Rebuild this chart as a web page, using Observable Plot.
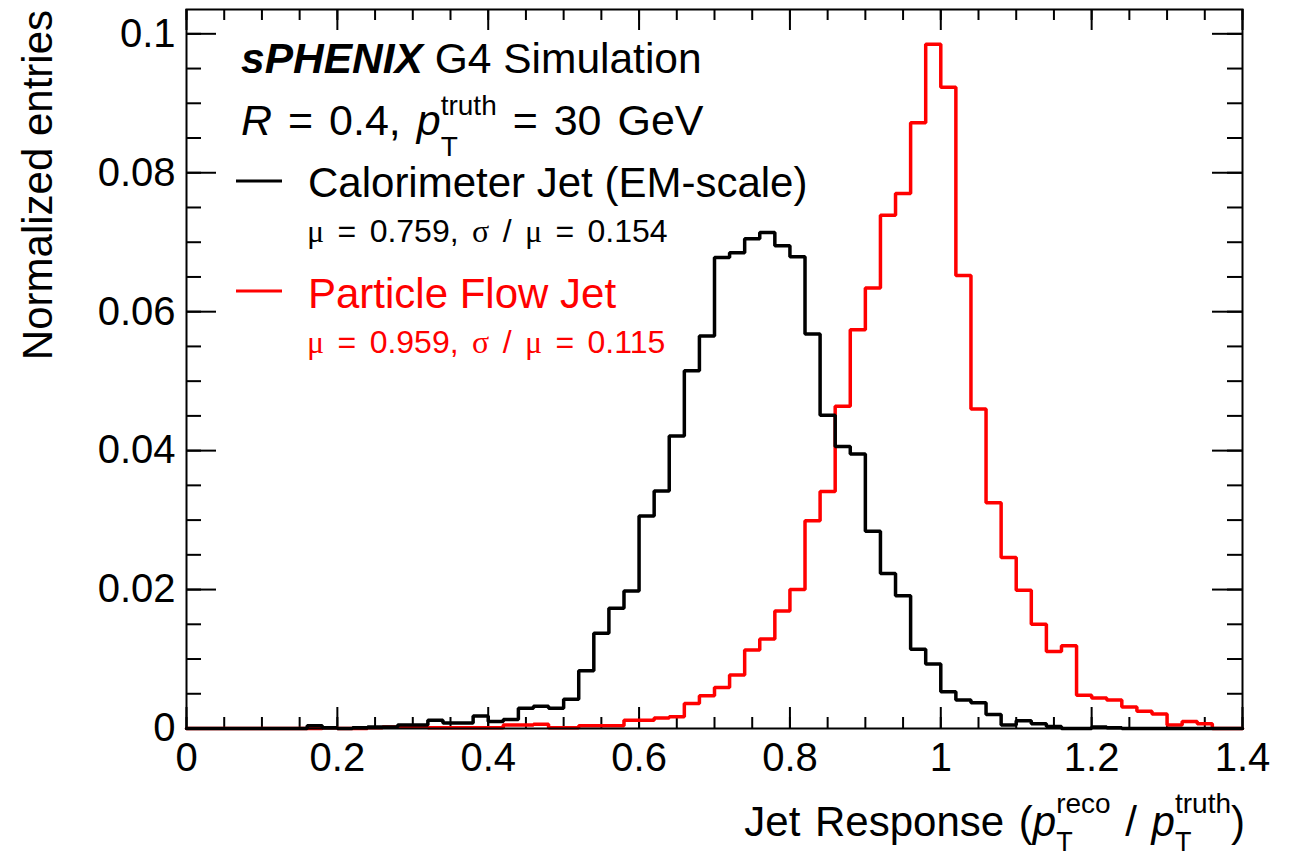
<!DOCTYPE html>
<html><head><meta charset="utf-8">
<script src="https://cdn.jsdelivr.net/npm/d3@7"></script>
<script src="https://cdn.jsdelivr.net/npm/@observablehq/plot@0.6"></script>
<style>body{margin:0;background:#fff;} svg text{white-space:pre;}</style>
</head><body><div id="chart"></div>
<script>
// ---- data: normalized entries per bin (bin width 0.02 from 0 to 1.4) ----
const binStart = 0, binCount = 70;
const caloJet = [
  0,0,0,0,0,0,0,0,0.0004,0.0001,
  0,0.0001,0.0002,0.0002,0.0005,0.0005,0.0012,0.0008,0.0008,0.0018,
  0.0010,0.0013,0.0029,0.0032,0.0029,0.0042,0.0083,0.0137,0.0173,0.0198,
  0.0306,0.0342,0.0421,0.0515,0.0565,0.0678,0.0685,0.0705,0.0714,0.0695,
  0.0679,0.0568,0.0451,0.0406,0.0395,0.0284,0.0223,0.0191,0.0114,0.0093,
  0.0053,0.0041,0.0037,0.0020,0.0005,0.0011,0.0007,0.0003,0,0,
  0.0002,0.0001,0,0,0,0,0,0,0,0
];
const pflowJet = [
  0,0,0,0,0,0,0,0,0,0.0001,
  0,0,0.0001,0.0002,0.0002,0.0002,0.0001,0.0001,0.0001,0.0001,
  0.0001,0.0005,0.0005,0.0006,0.0001,0.0001,0.0004,0.0004,0.0004,0.0012,
  0.0012,0.0015,0.0017,0.0036,0.0047,0.0059,0.0077,0.0113,0.0129,0.0169,
  0.0200,0.0299,0.0341,0.0464,0.0574,0.0634,0.0739,0.0770,0.0872,0.0985,
  0.0923,0.0652,0.0460,0.0325,0.0246,0.0199,0.0150,0.0111,0.0119,0.0048,
  0.0044,0.0041,0.0031,0.0025,0.0021,0.0005,0.0010,0.0007,0,0
];
const xMajorTicks = [0, 0.2, 0.4, 0.6, 0.8, 1, 1.2, 1.4];
const yMajorTicks = [0, 0.02, 0.04, 0.06, 0.08, 0.1];
const xDomain = [0, 1.4], yDomain = [0, 0.1035];
const seriesNames = ["Calorimeter Jet (EM-scale)", "Particle Flow Jet"];
const seriesColors = ["#000000", "#ff0000"];
const seriesStats = [["0.759", "0.154"], ["0.959", "0.115"]];

// ---- layout ----
const W = 1296, H = 859, mL = 186, mR = 54, mT = 9, mB = 131;
const FW = W - mL - mR, FH = H - mT - mB;

function steps(vals) {
  const pts = vals.map((v, i) => ({x: (binStart * 100 + i * 2) / 100, y: v}));
  pts.push({x: (binStart * 100 + vals.length * 2) / 100, y: vals[vals.length - 1]});
  return pts;
}
const xMinor = d3.range(0, 29).map(i => +(i * 0.05).toFixed(2));
const yMinor = d3.range(0, 21).map(i => +(i * 0.005).toFixed(3));

const plot = Plot.plot({
  width: W, height: H,
  marginLeft: mL, marginRight: mR, marginTop: mT, marginBottom: mB,
  style: {fontFamily: "'Liberation Sans', Arial, Helvetica, sans-serif", fontSize: "40px", background: "white", color: "black"},
  x: {domain: xDomain},
  y: {domain: yDomain},
  marks: [
    Plot.tickX(xMinor, {x: d => d, insetTop: FH - 11, stroke: "black", strokeWidth: 2}),
    Plot.tickX(xMajorTicks, {x: d => d, insetTop: FH - 21, stroke: "black", strokeWidth: 2}),
    Plot.tickX(xMinor, {x: d => d, insetBottom: FH - 11, stroke: "black", strokeWidth: 2}),
    Plot.tickX(xMajorTicks, {x: d => d, insetBottom: FH - 21, stroke: "black", strokeWidth: 2}),
    Plot.tickY(yMinor, {y: d => d, insetRight: FW - 15, stroke: "black", strokeWidth: 2}),
    Plot.tickY(yMajorTicks, {y: d => d, insetRight: FW - 30, stroke: "black", strokeWidth: 2}),
    Plot.tickY(yMinor, {y: d => d, insetLeft: FW - 15, stroke: "black", strokeWidth: 2}),
    Plot.tickY(yMajorTicks, {y: d => d, insetLeft: FW - 30, stroke: "black", strokeWidth: 2}),
    Plot.line(steps(pflowJet), {x: "x", y: "y", curve: "step-after", stroke: seriesColors[1], strokeWidth: 3.5, strokeLinejoin: "miter"}),
    Plot.line(steps(caloJet), {x: "x", y: "y", curve: "step-after", stroke: seriesColors[0], strokeWidth: 3.5, strokeLinejoin: "miter"}),
    Plot.frame({stroke: "black", strokeWidth: 2}),
    Plot.axisX(xMajorTicks, {tickSize: 0, tickPadding: 14, tickFormat: d => String(d), label: null}),
    Plot.axisY(yMajorTicks, {tickSize: 0, tickPadding: 11, tickFormat: d => String(d), label: null})
  ]
});
document.getElementById("chart").appendChild(plot);

const svg = d3.select(plot);
const SANS = "'Liberation Sans', Arial, Helvetica, sans-serif";
const SERIF = "'Liberation Serif', 'Times New Roman', serif";

function rich(x, y, parts, {anchor = "start", fill = "black", size = 40, wordSpacing = 0} = {}) {
  const g = svg.append("g").attr("text-anchor", "start");
  let cx = 0;
  const put = (p) => {
    const t = g.append("text")
      .attr("x", cx).attr("y", p.shift || 0)
      .attr("text-anchor", "start")
      .attr("fill", fill)
      .attr("font-family", p.family || SANS)
      .attr("font-size", p.size || size)
      .attr("font-style", p.italic ? "italic" : "normal")
      .attr("font-weight", p.bold ? "bold" : "normal")
      .style("word-spacing", wordSpacing + "px")
      .text(p.t);
    return t.node().getComputedTextLength();
  };
  for (const p of parts) {
    if (p.stack) {
      let w = 0;
      for (const s of p.stack) w = Math.max(w, put(s));
      cx += w;
    } else {
      cx += put(p);
    }
  }
  const x0 = anchor === "end" ? x - cx : x;
  g.attr("transform", `translate(${x0},${y})`);
  return g;
}

// header
rich(241, 73, [{t: "sPHENIX", bold: true, italic: true}, {t: " G4 Simulation"}], {size: 42.5});
rich(241, 135, [
  {t: "R", italic: true}, {t: " = 0.4, "}, {t: "p", italic: true},
  {stack: [{t: "truth", size: 28, shift: -20}, {t: "T", size: 28, shift: 21}]},
  {t: " = 30 GeV"}
], {size: 43, wordSpacing: 4});

// legend
const legendY = [181, 291];
const labelY = [197, 308];
const statY = [242, 353];
seriesNames.forEach((name, i) => {
  svg.append("line").attr("x1", 236).attr("x2", 282).attr("y1", legendY[i]).attr("y2", legendY[i])
    .attr("stroke", seriesColors[i]).attr("stroke-width", 3);
  rich(308, labelY[i], [{t: name}], {size: 42, fill: seriesColors[i]});
  rich(307, statY[i], [
    {t: "μ", family: SERIF}, {t: " = " + seriesStats[i][0] + ", "},
    {t: "σ", family: SERIF}, {t: " / "}, {t: "μ", family: SERIF},
    {t: " = " + seriesStats[i][1]}
  ], {size: 32, fill: seriesColors[i], wordSpacing: 4.5});
});

// x axis title
rich(1245, 836, [
  {t: "Jet Response ("}, {t: "p", italic: true},
  {stack: [{t: "reco", size: 28, shift: -23}, {t: "T", size: 27, shift: 15}]},
  {t: " / "}, {t: "p", italic: true},
  {stack: [{t: "truth", size: 28, shift: -23}, {t: "T", size: 27, shift: 15}]},
  {t: ")"}
], {anchor: "end", size: 42, wordSpacing: 3});

// y axis title
svg.append("text")
  .attr("transform", "translate(52,10) rotate(-90)")
  .attr("text-anchor", "end")
  .attr("font-family", SANS).attr("font-size", 42)
  .text("Normalized entries");
</script>
</body></html>
